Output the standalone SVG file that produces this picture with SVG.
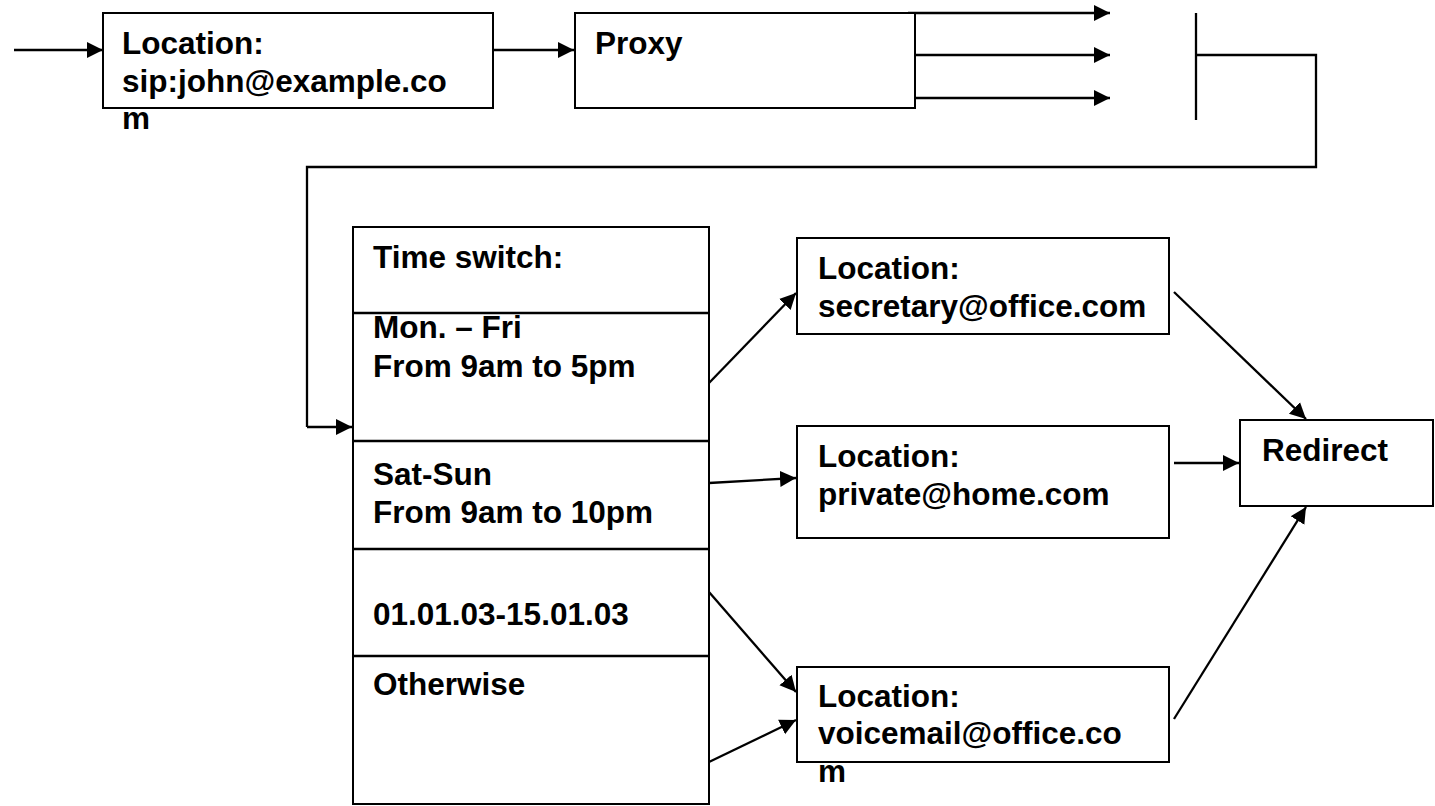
<svg xmlns="http://www.w3.org/2000/svg" width="1435" height="806" viewBox="0 0 1435 806">
<style>
.box{fill:#fff;stroke:#000;stroke-width:2}
.div{stroke:#000;stroke-width:2.5;fill:none}
.t{font-family:"Liberation Sans",Arial,Helvetica,sans-serif;font-weight:bold;font-size:31.5px;fill:#000}
.c{stroke:#000;stroke-width:2.3;fill:none}
.ca{stroke:#000;stroke-width:2.3;fill:none;marker-end:url(#ah)}
</style>
<defs>
<marker id="ah" markerUnits="userSpaceOnUse" markerWidth="18" markerHeight="18" viewBox="0 0 18 18" refX="16" refY="9" orient="auto">
<path d="M0,1 L16,9 L0,17 Z" fill="#000"/>
</marker>
</defs>
<rect width="1435" height="806" fill="#fff"/>

<g id="connectors">
<line class="ca" x1="14" y1="50" x2="103" y2="50"/>
<line class="ca" x1="494" y1="50" x2="574" y2="50"/>
<line class="ca" x1="908" y1="13" x2="1110" y2="13"/>
<line class="ca" x1="915" y1="55" x2="1110" y2="55"/>
<line class="ca" x1="915" y1="98" x2="1110" y2="98"/>
<line class="c" x1="1196" y1="13" x2="1196" y2="120"/>
<polyline class="c" points="1196,55 1316,55 1316,167 307,167 307,427"/>
<line class="ca" x1="307" y1="427" x2="352" y2="427"/>
<line class="ca" x1="709" y1="383" x2="796" y2="293"/>
<line class="ca" x1="709" y1="483" x2="796" y2="478"/>
<line class="ca" x1="709" y1="592" x2="796" y2="692"/>
<line class="ca" x1="709" y1="762" x2="796" y2="720"/>
<line class="ca" x1="1174" y1="292" x2="1306" y2="419"/>
<line class="ca" x1="1174" y1="463" x2="1239" y2="463"/>
<line class="ca" x1="1174" y1="719" x2="1306" y2="507"/>
</g>

<g id="loc-john">
<rect class="box" x="103" y="13" width="390" height="95"/>
<text class="t" x="122" y="54">Location:</text>
<text class="t" x="122" y="92">sip:john@example.co</text>
<text class="t" x="122" y="129">m</text>
</g>

<g id="proxy">
<rect class="box" x="575" y="13" width="340" height="95"/>
<text class="t" x="595" y="54">Proxy</text>
</g>

<g id="time-switch">
<rect class="box" x="353" y="227" width="356" height="577"/>
<line class="div" x1="353" y1="313" x2="709" y2="313"/>
<line class="div" x1="353" y1="441" x2="709" y2="441"/>
<line class="div" x1="353" y1="549" x2="709" y2="549"/>
<line class="div" x1="353" y1="656" x2="709" y2="656"/>
<text class="t" x="373" y="268">Time switch:</text>
<text class="t" x="373" y="338">Mon. – Fri</text>
<text class="t" x="373" y="377">From 9am to 5pm</text>
<text class="t" x="373" y="485">Sat-Sun</text>
<text class="t" x="373" y="523">From 9am to 10pm</text>
<text class="t" x="373" y="625">01.01.03-15.01.03</text>
<text class="t" x="373" y="695">Otherwise</text>
</g>

<g id="loc-secretary">
<rect class="box" x="797" y="238" width="372" height="96"/>
<text class="t" x="818" y="279">Location:</text>
<text class="t" x="818" y="317">secretary@office.com</text>
</g>

<g id="loc-private">
<rect class="box" x="797" y="426" width="372" height="112"/>
<text class="t" x="818" y="467">Location:</text>
<text class="t" x="818" y="505">private@home.com</text>
</g>

<g id="loc-voicemail">
<rect class="box" x="797" y="667" width="372" height="95"/>
<text class="t" x="818" y="707">Location:</text>
<text class="t" x="818" y="744">voicemail@office.co</text>
<text class="t" x="818" y="782">m</text>
</g>

<g id="redirect">
<rect class="box" x="1240" y="420" width="193" height="86"/>
<text class="t" x="1262" y="461">Redirect</text>
</g>
</svg>
